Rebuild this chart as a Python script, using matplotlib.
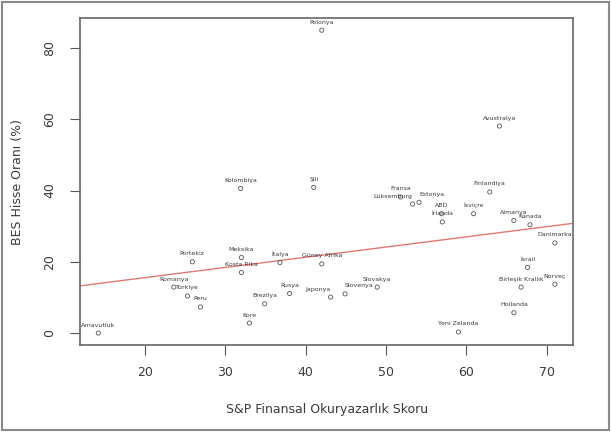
"""BES hisse oranı ile S&P finansal okuryazarlık skoru"""
import numpy as np
import matplotlib.pyplot as plt
from matplotlib.patches import Rectangle

# ülkeler ve değerler
countries = ["Arnavutluk", "Polonya", "Avustralya", "Kolombiya", "Şili",
             "Fransa", "Lüksemburg", "Estonya", "ABD", "İrlanda", "İsviçre",
             "Finlandiya", "Almanya", "Kanada", "Danimarka", "İsrail",
             "Birleşik Krallık", "Norveç", "Hollanda", "Yeni Zelanda",
             "Portekiz", "Meksika", "Kosta Rika", "İtalya", "Güney Afrika",
             "Romanya", "Türkiye", "Peru", "Brezilya", "Kore", "Rusya",
             "Japonya", "Slovenya", "Slovakya"]
fin_lit = [14.2, 42.0, 64.1, 31.9, 41.0,
           51.8, 53.3, 54.1, 56.9, 57.0, 60.9,
           62.9, 65.9, 67.9, 71.0, 67.6,
           66.8, 71.0, 65.9, 59.0,
           25.9, 32.0, 32.0, 36.8, 42.0,
           23.6, 25.3, 26.9, 34.9, 33.0, 38.0,
           43.1, 44.9, 48.9]
equity_share = [0.0, 85.0, 58.1, 40.6, 40.9,
                38.2, 36.2, 36.7, 33.5, 31.2, 33.5,
                39.6, 31.6, 30.4, 25.3, 18.4,
                12.9, 13.7, 5.7, 0.3,
                20.0, 21.2, 17.0, 19.8, 19.4,
                12.9, 10.4, 7.3, 8.2, 2.8, 11.1,
                10.1, 11.0, 12.9]

# üst üste binen etiketler için yatay hizalama
label_align = {"Lüksemburg": "right", "Estonya": "left",
               "Japonya": "right", "Slovenya": "left"}

x = np.array(fin_lit)
y = np.array(equity_share)

fig = plt.figure(figsize=(6.11, 4.32), dpi=100)
ax = fig.add_axes([0.131, 0.201, 0.807, 0.757])

txt = "#3a3a3a"
ax.scatter(x, y, s=9, facecolors="none", edgecolors="#555555", linewidths=0.6, zorder=3)
for name, xi, yi in zip(countries, x, y):
    ha = label_align.get(name, "center")
    ax.annotate(name, (xi, yi), xytext=(0, 4), textcoords="offset points",
                ha=ha, va="bottom", fontsize=4.5, color=txt)

# R tarzı eksen genişletmesi (%4)
xr = x.max() - x.min()
yr = y.max() - y.min()
ax.set_xlim(x.min() - 0.04 * xr, x.max() + 0.04 * xr)
ax.set_ylim(y.min() - 0.04 * yr, y.max() + 0.04 * yr)

# regresyon doğrusu
b, a = np.polyfit(x, y, 1)
xl = np.array(ax.get_xlim())
ax.plot(xl, a + b * xl, color="#e07a72", lw=1.0, zorder=2)

ax.set_xticks([20, 30, 40, 50, 60, 70])
ax.set_yticks([0, 20, 40, 60, 80])
ax.tick_params(direction="out", length=7, width=0.8, colors="#555555",
               labelcolor=txt, labelsize=9)
ax.tick_params(axis="x", pad=8)
ax.tick_params(axis="y", pad=10)
for lab in ax.get_yticklabels():
    lab.set_rotation(90)
    lab.set_va("center")
for sp in ax.spines.values():
    sp.set_color("#666666")
    sp.set_linewidth(1.2)

ax.set_xlabel("S&P Finansal Okuryazarlık Skoru", fontsize=9, color=txt, labelpad=17)
ax.set_ylabel("BES Hisse Oranı (%)", fontsize=9, color=txt, labelpad=14)

# dış çerçeve
fig.patches.append(Rectangle((0.004, 0.005), 0.992, 0.99, transform=fig.transFigure,
                             fill=False, edgecolor="#8a8a8a", lw=1.5))

fig.savefig("out.png", dpi=100)
